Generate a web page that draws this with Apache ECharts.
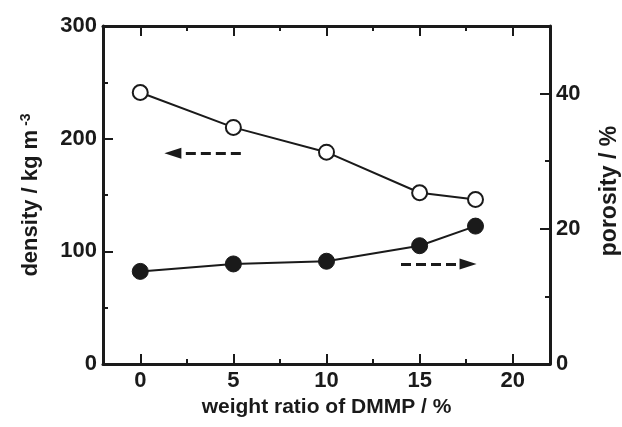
<!DOCTYPE html>
<html>
<head>
<meta charset="utf-8">
<script src="https://cdn.jsdelivr.net/npm/echarts@6/dist/echarts.min.js"></script>
<style>
  html, body { margin: 0; padding: 0; background: #fff; }
  #chart { width: 622px; height: 427px; }
</style>
</head>
<body>
<div id="chart"></div>
<script>
// weight ratio of DMMP (%)
var ratio = [0, 5, 10, 15, 18];
// density (kg m-3), open circles, left axis
var density = [241, 210, 188, 152, 146];
// porosity (%), filled circles, right axis
var porosity = [13.7, 14.8, 15.2, 17.5, 20.4];

var xMajor = [0, 5, 10, 15, 20];
var xMinor = [2.5, 7.5, 12.5, 17.5];
var leftMajor = [0, 100, 200, 300];
var leftMinor = [50, 150, 250];
var rightMajor = [0, 20, 40];
var rightMinor = [10, 30, 50];

var font = "'Liberation Sans', Arial, sans-serif";
var ink = "#1a1a1a";

function pairs(xs, ys) {
  return xs.map(function (x, i) { return [x, ys[i]]; });
}

// one axis line with major ticks + labels
function mainAxis(pos, min, max, major, showLabel, extra) {
  var a = {
    type: "value",
    position: pos,
    min: min,
    max: max,
    splitLine: { show: false },
    axisLine: { show: true, onZero: false, lineStyle: { color: ink, width: 3 } },
    axisTick: { show: true, inside: true, length: 10, customValues: major,
      lineStyle: { color: ink, width: 2 } },
    axisLabel: { show: showLabel, customValues: major, margin: 6,
      fontFamily: font, fontWeight: "bold", fontSize: 22, color: ink }
  };
  return Object.assign(a, extra || {});
}

// overlay axis that only draws short minor ticks
function minorAxis(pos, min, max, minor) {
  return {
    type: "value",
    position: pos,
    min: min,
    max: max,
    splitLine: { show: false },
    axisLine: { show: false, onZero: false },
    axisTick: { show: true, inside: true, length: 5, customValues: minor,
      lineStyle: { color: ink, width: 2 } },
    axisLabel: { show: false }
  };
}

// dashed arrow annotation
function arrow(from, to) {
  return {
    silent: true,
    symbol: ["none", "triangle"],
    symbolSize: [11, 17],
    label: { show: false },
    lineStyle: { color: ink, width: 3, type: [10, 5] },
    data: [[{ coord: from }, { coord: to }]]
  };
}

var chart = echarts.init(document.getElementById("chart"));

chart.setOption({
  animation: false,
  backgroundColor: "#fff",
  grid: { left: 103, right: 72, top: 26, bottom: 63, outerBoundsMode: "none", containLabel: false },
  xAxis: [
    mainAxis("bottom", -2, 22, xMajor, true, {
      name: "weight ratio of DMMP / %",
      nameLocation: "middle",
      nameGap: 30,
      nameTextStyle: { fontFamily: font, fontWeight: "bold", fontSize: 21, color: ink, verticalAlign: "top" }
    }),
    minorAxis("bottom", -2, 22, xMinor),
    mainAxis("top", -2, 22, xMajor, false),
    minorAxis("top", -2, 22, xMinor)
  ],
  yAxis: [
    mainAxis("left", 0, 300, leftMajor, true, {
      name: "density / kg m{sup|-3}",
      nameLocation: "middle",
      nameRotate: 90,
      nameGap: 60,
      nameTextStyle: {
        fontFamily: font, fontWeight: "bold", fontSize: 22, color: ink,
        rich: { sup: { fontFamily: font, fontWeight: "bold", fontSize: 14, color: ink, verticalAlign: "top", padding: [0, 0, 10, 4] } }
      }
    }),
    minorAxis("left", 0, 300, leftMinor),
    mainAxis("right", 0, 50, rightMajor, true, {
      name: "porosity / %",
      nameLocation: "middle",
      nameRotate: 90,
      nameGap: 48,
      nameTextStyle: { fontFamily: font, fontWeight: "bold", fontSize: 23, color: ink, padding: [0, 0, 0, 8] }
    }),
    minorAxis("right", 0, 50, rightMinor)
  ],
  series: [
    {
      name: "density",
      type: "line",
      xAxisIndex: 0,
      yAxisIndex: 0,
      data: pairs(ratio, density),
      symbol: "circle",
      symbolSize: 15,
      lineStyle: { color: ink, width: 2 },
      itemStyle: { color: "#fff", borderColor: ink, borderWidth: 2 },
      z: 3,
      markLine: arrow([5.4, 187], [1.75, 187])
    },
    {
      name: "porosity",
      type: "line",
      xAxisIndex: 0,
      yAxisIndex: 2,
      data: pairs(ratio, porosity),
      symbol: "circle",
      symbolSize: 16,
      lineStyle: { color: ink, width: 2 },
      itemStyle: { color: ink, borderColor: ink, borderWidth: 1 },
      z: 3,
      markLine: arrow([14.0, 14.8], [17.6, 14.8])
    }
  ]
});
</script>
</body>
</html>
